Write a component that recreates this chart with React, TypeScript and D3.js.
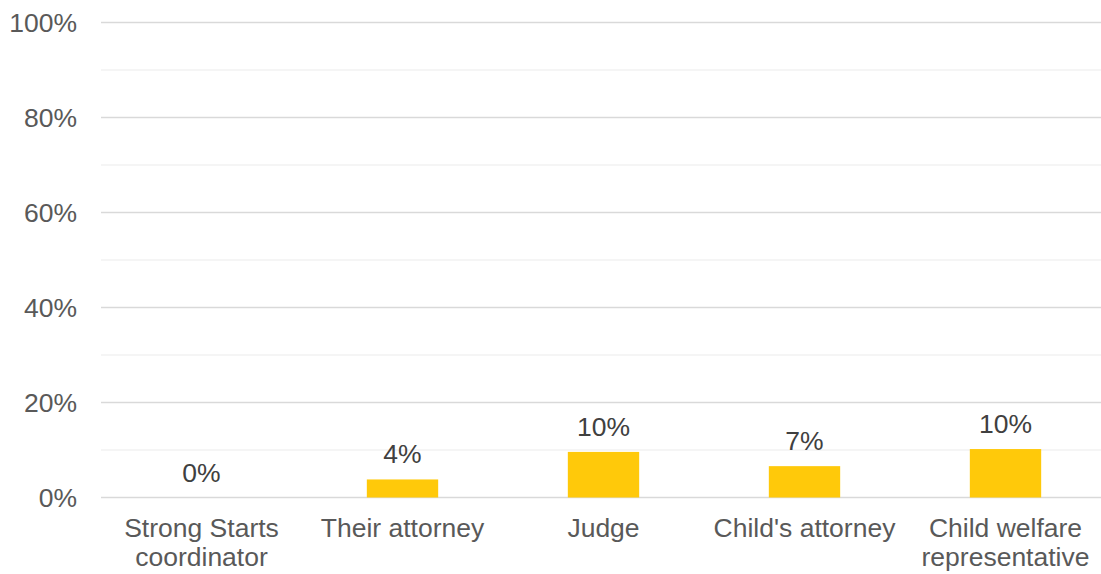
import React from "react";
import * as d3 from "d3";

const categories: string[][] = [
  ["Strong Starts", "coordinator"],
  ["Their attorney"],
  ["Judge"],
  ["Child's attorney"],
  ["Child welfare", "representative"],
];
const values: number[] = [0, 3.8, 9.6, 6.6, 10.2];
const valueLabels: string[] = ["0%", "4%", "10%", "7%", "10%"];
const majorTicks: number[] = [0, 20, 40, 60, 80, 100];
const minorTicks: number[] = [10, 30, 50, 70, 90];

const W = 1101;
const H = 574;
const FONT = "'Liberation Sans', Arial, sans-serif";
const FS = 26.5;

export default function App() {
  const keys = categories.map((c) => c.join(" "));
  const x = d3
    .scaleBand<string>()
    .domain(keys)
    .range([101, 1106])
    .paddingInner(0.645)
    .paddingOuter(0.3225);
  const y = d3.scaleLinear().domain([0, 100]).range([497.5, 22.5]);
  const fmt = (v: number) => `${v}%`;

  return (
    <svg
      width={W}
      height={H}
      style={{ position: "absolute", left: 0, top: 0, background: "#fff" }}
      fontFamily={FONT}
    >
      {minorTicks.map((t) => (
        <line key={"m" + t} x1={101} x2={W} y1={y(t)} y2={y(t)} stroke="#f2f2f2" strokeWidth={1.3} />
      ))}
      {majorTicks.map((t) => (
        <line key={"M" + t} x1={101} x2={W} y1={y(t)} y2={y(t)} stroke="#d9d9d9" strokeWidth={1.3} />
      ))}
      {majorTicks.map((t) => (
        <text
          key={"t" + t}
          x={77}
          y={y(t)}
          dy="0.35em"
          textAnchor="end"
          fontSize={FS}
          fill="#595959"
        >
          {fmt(t)}
        </text>
      ))}
      {values.map((v, i) => {
        const k = keys[i];
        const bx = x(k)!;
        return (
          <g key={k}>
            <rect x={bx} y={y(v)} width={x.bandwidth()} height={y(0) - y(v)} fill="#ffc90a" />
            <text
              x={bx + x.bandwidth() / 2}
              y={y(v) - 16}
              textAnchor="middle"
              fontSize={FS}
              fill="#404040"
            >
              {valueLabels[i]}
            </text>
          </g>
        );
      })}
      {categories.map((lines, i) => {
        const cx = x(keys[i])! + x.bandwidth() / 2;
        return (
          <text key={"c" + i} x={cx} y={537} textAnchor="middle" fontSize={FS} fill="#595959">
            {lines.map((l, j) => (
              <tspan key={j} x={cx} y={537 + j * 28.5}>
                {l}
              </tspan>
            ))}
          </text>
        );
      })}
    </svg>
  );
}
